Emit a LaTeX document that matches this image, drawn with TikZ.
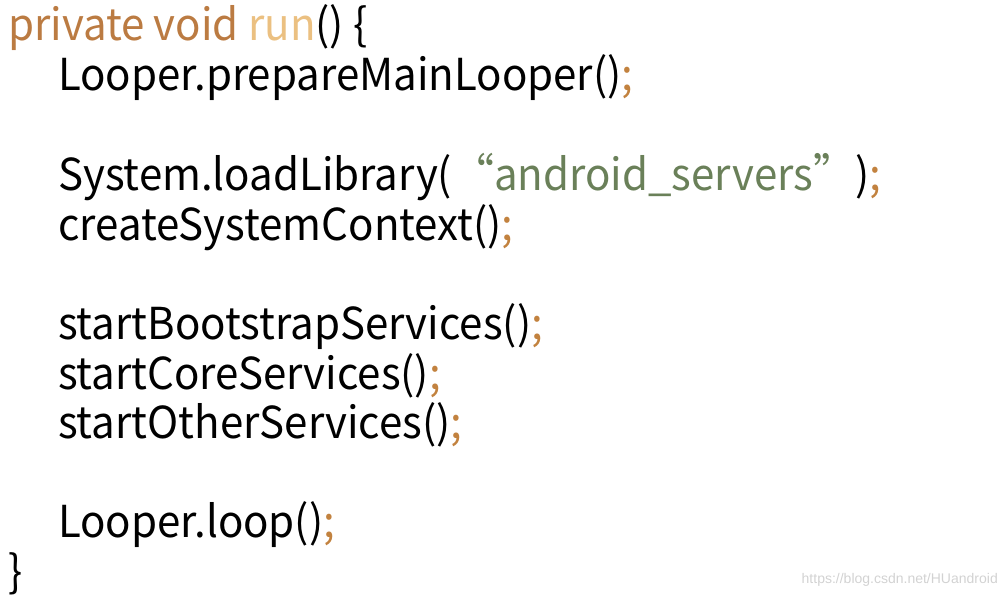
\documentclass[tikz,border=0pt]{standalone}
\usepackage{fontspec}
\usepackage{xcolor}
\usepackage{tikz}
\setmainfont[FakeStretch = 0.955]{Noto Sans CJK SC}
\newfontfamily\urlfont{Liberation Sans}

\definecolor{keyword}{HTML}{BB7B42}
\definecolor{method}{HTML}{EBC081}
\definecolor{semicolon}{HTML}{C2823F}
\definecolor{literal}{HTML}{6A8059}
\definecolor{wmgray}{HTML}{D2D2D2}

\tikzset{
	codeline/.style = {anchor = base west, inner sep = 0pt, font = \fontsize{44}{50}\selectfont},
	watermark/.style = {anchor = base east, inner sep = 0pt, text = wmgray, font = \urlfont\fontsize{14}{16}\selectfont}
}

\newcommand{\semi}{\textcolor{semicolon}{;}}

\begin{document}
\begin{tikzpicture}[x = 1pt, y = 1pt]
			\useasboundingbox (0, 0) rectangle (1008, -596);
			\node[codeline] (head) at (8, -41) {\textcolor{keyword}{private void} \textcolor{method}{run}() \{};
			\node[codeline] (prepare) at (58, -91) {Looper.prepareMainLooper()\semi};
			\node[codeline] (library) at (58, -190) {System.loadLibrary(\textcolor{literal}{“android\_servers”})\semi};
			\node[codeline] (context) at (58, -240) {createSystemContext()\semi};
			\node[codeline] (bootstrap) at (58, -339) {startBootstrapServices()\semi};
			\node[codeline] (core) at (58, -389) {startCoreServices()\semi};
			\node[codeline] (other) at (58, -438) {startOtherServices()\semi};
			\node[codeline] (loop) at (58, -537) {Looper.loop()\semi};
			\node[codeline] (tail) at (8, -587) {\}};
			\node[watermark] (url) at (998, -583) {https://blog.csdn.net/HUandroid};
		\end{tikzpicture}
\end{document}
